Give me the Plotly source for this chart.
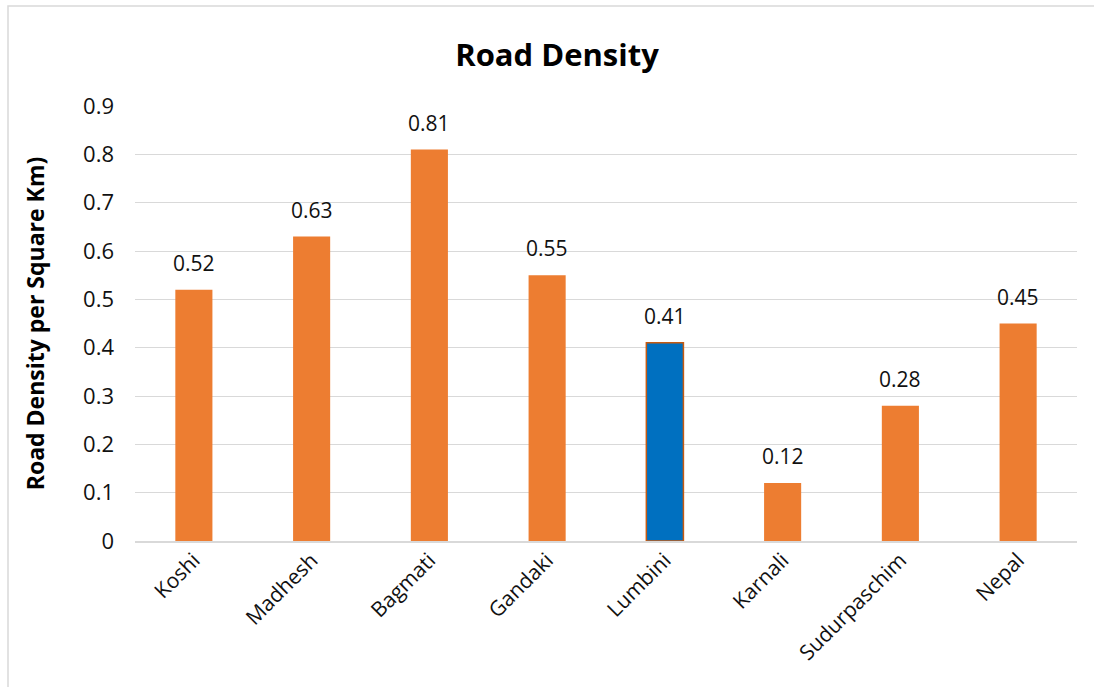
import plotly.graph_objects as go

provinces = ["Koshi", "Madhesh", "Bagmati", "Gandaki", "Lumbini", "Karnali", "Sudurpaschim", "Nepal"]
density = [0.52, 0.63, 0.81, 0.55, 0.41, 0.12, 0.28, 0.45]
highlight = "Lumbini"

ORANGE = "#ED7D31"
BLUE = "#0070C0"
EDGE = "#C55A11"
FONT = "Open Sans"

W, H = 1094, 687
L, R, T, B = 135, 17, 106, 146

fill = [BLUE if p == highlight else ORANGE for p in provinces]
edge = [EDGE if p == highlight else ORANGE for p in provinces]
edge_w = [1.5 if p == highlight else 0 for p in provinces]

fig = go.Figure(
    go.Bar(
        x=provinces,
        y=density,
        marker=dict(color=fill, line=dict(color=edge, width=edge_w)),
        width=0.315,
        hoverinfo="x+y",
    )
)

# value labels above each bar
for p, v in zip(provinces, density):
    fig.add_annotation(
        x=p, y=v, text=f"{v:.2f}", showarrow=False, yanchor="bottom",
        yshift=11, font=dict(family=FONT, size=21, color="#111"),
    )

# outer chart frame (extends past the page edges on right and bottom)
pw, ph = W - L - R, H - T - B
fig.add_shape(
    type="rect", xref="paper", yref="paper",
    x0=(8 - L) / pw, x1=(W + 10 - L) / pw,
    y0=-(H + 10 - (H - B)) / ph, y1=((H - B) - 6) / ph,
    line=dict(color="#D9D9D9", width=1.5), fillcolor="rgba(0,0,0,0)", layer="below",
)

fig.update_layout(
    width=W, height=H,
    margin=dict(l=L, r=R, t=T, b=B),
    paper_bgcolor="white", plot_bgcolor="white",
    showlegend=False,
    font=dict(family=FONT, color="#000"),
    title=dict(
        text="<b>Road Density</b>", x=557 / W, xref="container", xanchor="center",
        y=1 - 55 / H, yanchor="middle", font=dict(family=FONT, size=31, color="#000"),
    ),
    xaxis=dict(
        tickangle=-45, tickfont=dict(family=FONT, size=21, color="#111"),
        showline=True, linecolor="#D9D9D9", linewidth=1.5,
        showgrid=False, ticks="", ticklabelstandoff=-3,
    ),
    yaxis=dict(
        range=[0, 0.9], dtick=0.1, tickformat="~g",
        tickfont=dict(family=FONT, size=22, color="#111"),
        gridcolor="#D9D9D9", gridwidth=1.2, zeroline=False,
        showline=False, ticks="", ticklabelstandoff=20,
        title=dict(text="<b>Road Density per Square Km)</b>", standoff=32,
                   font=dict(family=FONT, size=23, color="#000")),
    ),
)

fig.write_html("out.html")
